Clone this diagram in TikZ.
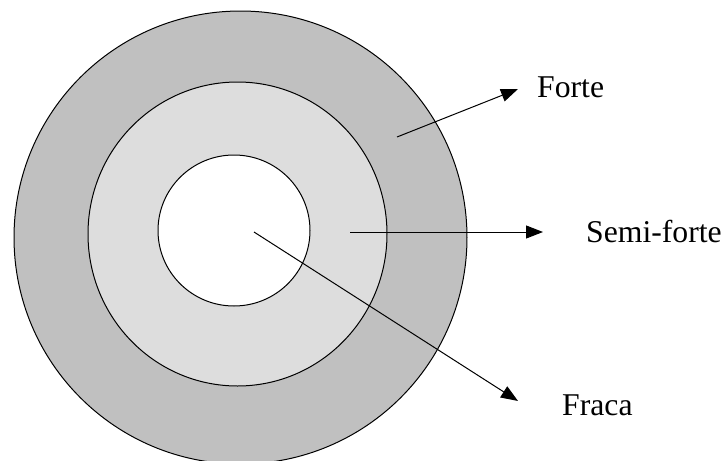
\documentclass[tikz,border=0pt]{standalone}
\usepackage{fontspec}
\setmainfont{Liberation Serif}
\usetikzlibrary{arrows.meta}
\begin{document}
\begin{tikzpicture}[x=1pt,y=1pt,
  ring/.style={draw=black,line width=1pt},
  pointer/.style={draw=black,line width=1pt,-{Triangle[length=17pt,width=13pt]}},
  lbl/.style={inner sep=0pt,anchor=base west,font=\fontsize{31.7}{38}\selectfont}]
\useasboundingbox (0,0) rectangle (724,-461);
\begin{scope}
\clip (0,0) rectangle (724,-461);
\fill[ring,fill={rgb,255:red,192;green,192;blue,192}] (240.5,-237.5) ellipse [x radius=226.5, y radius=226.5];
\fill[ring,fill={rgb,255:red,221;green,221;blue,221}] (237.5,-234) ellipse [x radius=149.5, y radius=152];
\fill[ring,fill=white] (234,-230.5) ellipse [x radius=76, y radius=75.5];
\end{scope}
\node[lbl] (forte) at (537,-97) {Forte};
\node[lbl] (semi) at (586,-242) {Semi-forte};
\node[lbl] (fraca) at (562,-415) {Fraca};
\coordinate (s1) at (397,-137);
\coordinate (t1) at (518,-89);
\coordinate (s2) at (350,-232);
\coordinate (t2) at (543,-232);
\coordinate (s3) at (254,-232);
\coordinate (t3) at (518,-401);
\draw[pointer] (s1) -- (t1);
\draw[pointer] (s2) -- (t2);
\draw[pointer] (s3) -- (t3);
\end{tikzpicture}
\end{document}
